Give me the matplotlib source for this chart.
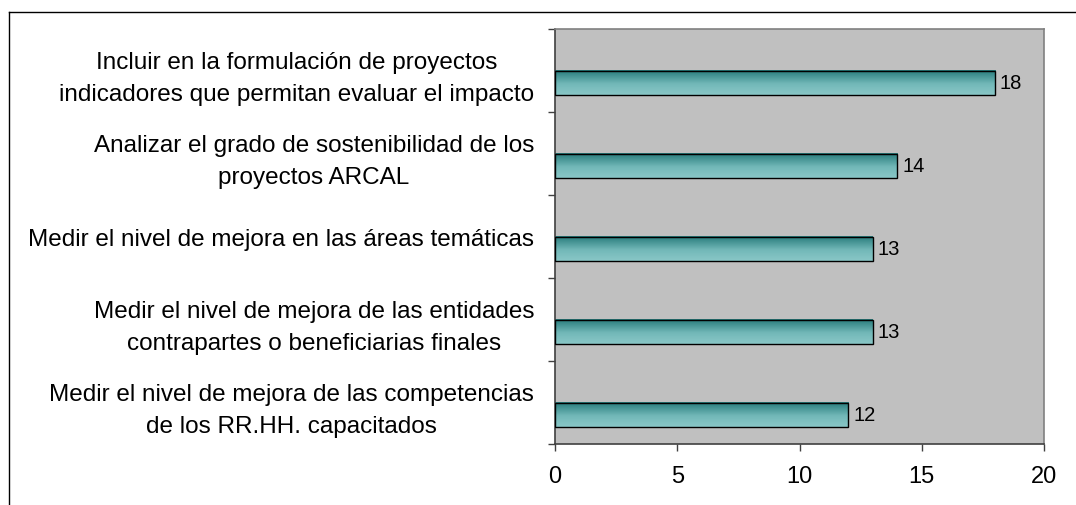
import matplotlib
matplotlib.use("Agg")
import matplotlib.pyplot as plt
import numpy as np
from matplotlib.lines import Line2D
from matplotlib.colors import LinearSegmentedColormap

plt.rcParams['font.family'] = ['Liberation Sans', 'DejaVu Sans']

categories = [
    "Medir el nivel de mejora de las competencias\nde los RR.HH. capacitados",
    "Medir el nivel de mejora de las entidades\ncontrapartes o beneficiarias finales",
    "Medir el nivel de mejora en las áreas temáticas",
    "Analizar el grado de sostenibilidad de los\nproyectos ARCAL",
    "Incluir en la formulación de proyectos\nindicadores que permitan evaluar el impacto",
]
values = [12, 13, 13, 14, 18]
x_ticks = [0, 5, 10, 15, 20]

W, H = 1076, 506
fig = plt.figure(figsize=(W / 100, H / 100), dpi=100)
ax = fig.add_axes([555 / W, 1 - 445 / H, (1044 - 555) / W, (445 - 30) / H])
ax.set_facecolor('#c0c0c0')

ypos = np.arange(len(categories))
bar_off = -0.15   # bar sits in the lower half of each category slot
bars = ax.barh(ypos + bar_off, values, height=0.29, facecolor='none', edgecolor='black',
               linewidth=1.0, zorder=3)

cmap = LinearSegmentedColormap.from_list(
    'teal', [(0.0, '#8ac7c7'), (0.45, '#72b8b8'), (1.0, '#267a7a')])
grad = np.linspace(0, 1, 256).reshape(-1, 1)
for b in bars:
    x0, y0 = b.get_x(), b.get_y()
    w, h = b.get_width(), b.get_height()
    ax.imshow(grad, cmap=cmap, aspect='auto', origin='lower',
              extent=(x0, x0 + w, y0, y0 + h), zorder=2, interpolation='bilinear')

for v, y in zip(values, ypos):
    ax.text(v + 0.2, y + bar_off, str(v), va='center', ha='left', fontsize=14.5, zorder=4)

ax.set_xlim(0, 20)
ax.set_ylim(-0.5, len(categories) - 0.5)
ax.set_xticks(x_ticks)
ax.set_xticklabels([str(t) for t in x_ticks], fontsize=17)
ax.set_yticks(ypos)
ax.set_yticklabels(categories, fontsize=17.5, multialignment='center', linespacing=1.6)
ax.set_yticks(np.arange(-0.5, len(categories), 1.0), minor=True)
ax.tick_params(axis='y', which='major', length=0, pad=15)
ax.tick_params(axis='y', which='minor', length=5, width=1, color='#404040')
ax.tick_params(axis='x', length=5, width=1, color='#404040', pad=10)

for s in ['top', 'right']:
    ax.spines[s].set_color('#808080')
    ax.spines[s].set_linewidth(1.2)
for s in ['left', 'bottom']:
    ax.spines[s].set_color('#404040')
    ax.spines[s].set_linewidth(1.2)

# outer chart border (top and left visible)
fig.add_artist(Line2D([9 / W, 1.0], [1 - 13 / H, 1 - 13 / H], transform=fig.transFigure,
                      color='black', linewidth=1.0))
fig.add_artist(Line2D([9 / W, 9 / W], [0.0, 1 - 13 / H], transform=fig.transFigure,
                      color='black', linewidth=1.0))

fig.savefig('out.png', dpi=100, facecolor='white')
